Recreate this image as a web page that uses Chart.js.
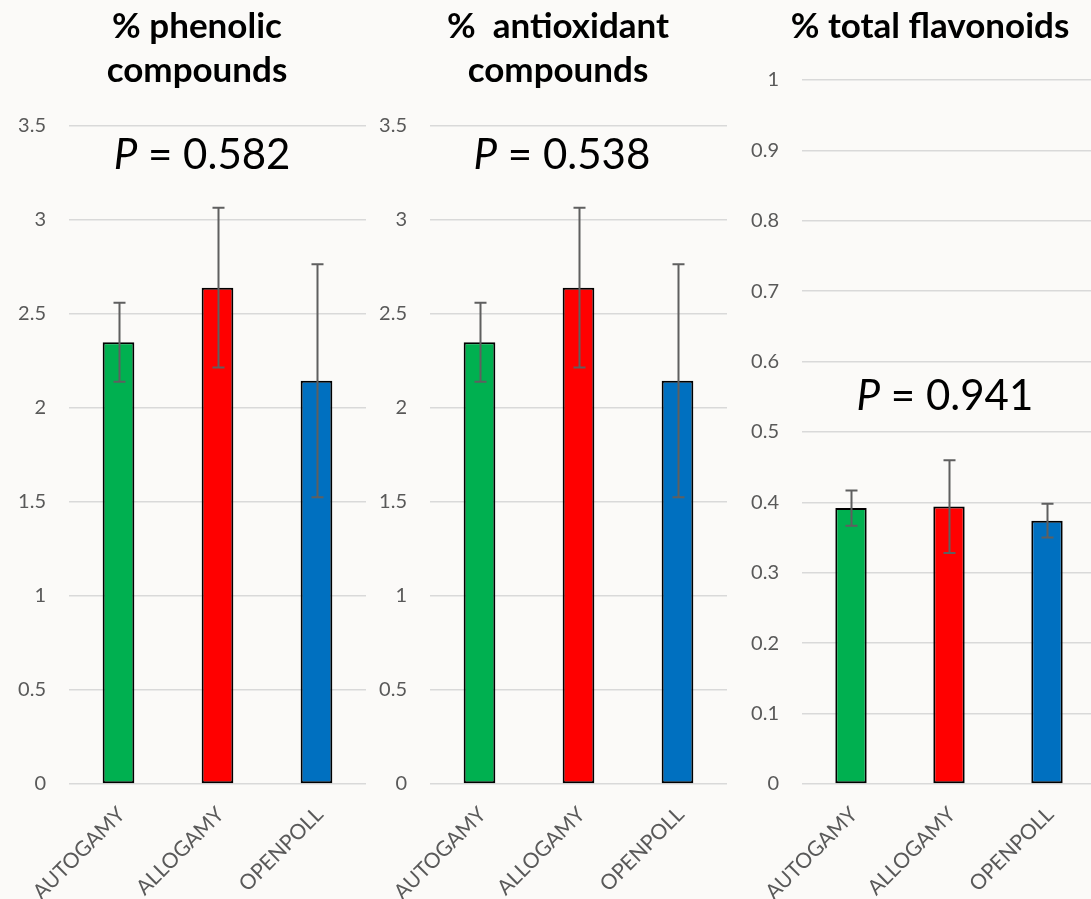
<!DOCTYPE html>
<html>
<head>
<meta charset="utf-8">
<script src="https://cdn.jsdelivr.net/npm/chart.js@4.4.1/dist/chart.umd.min.js"></script>
<style>
  html, body { margin: 0; padding: 0; background: #fbfaf8; overflow: hidden; }
  #wrap { position: relative; width: 1091px; height: 899px; overflow: hidden; background: #fbfaf8; }
  .panel { position: absolute; top: 0; height: 899px; }
</style>
</head>
<body>
<div id="wrap">
  <div class="panel" style="left:0px;width:366px"><canvas id="c1"></canvas></div>
  <div class="panel" style="left:360px;width:367px"><canvas id="c2"></canvas></div>
  <div class="panel" style="left:740px;width:356px"><canvas id="c3"></canvas></div>
</div>
<script>
// Pollination treatments on the x axis
const categories = ['AUTOGAMY', 'ALLOGAMY', 'OPENPOLL'];
const barColors = ['#00b050', '#ff0000', '#0070c0'];

// % phenolic compounds: means and error half-widths
const phenolicMean = [2.35, 2.64, 2.145];
const phenolicErr = [0.21, 0.425, 0.62];

// % antioxidant compounds: means and error half-widths
const antioxMean = [2.35, 2.64, 2.145];
const antioxErr = [0.21, 0.425, 0.62];

// % total flavonoids: means and error half-widths
const flavMean = [0.392, 0.394, 0.374];
const flavErr = [0.025, 0.066, 0.024];

// Panel headings and P values
const titlePhenolic = ['% phenolic', 'compounds'];
const titleAntiox = ['%  antioxidant', 'compounds'];
const titleFlav = ['% total flavonoids'];
const pPhenolic = '0.582';
const pAntiox = '0.538';
const pFlav = '0.941';

// Y axis ranges
const yMaxPercent = 3.5, yStepPercent = 0.5;
const yMaxFlav = 1, yStepFlav = 0.1;

const FONT = 'Lato, "Open Sans", sans-serif';
const GREY = '#595959';

// Bold heading above each panel, centred on a given x
const headingPlugin = {
  id: 'heading',
  afterDraw(chart, args, opts) {
    const { ctx } = chart;
    ctx.save();
    ctx.fillStyle = '#000';
    ctx.font = 'bold ' + opts.size + 'px ' + FONT;
    ctx.textAlign = 'center';
    ctx.textBaseline = 'middle';
    (opts.lines || []).forEach((line, i) => {
      ctx.fillText(line, opts.centerX, opts.firstY + i * opts.lineGap);
    });
    ctx.restore();
  }
};

// Draws symmetric error bars on top of each bar
const errorBarPlugin = {
  id: 'errorBars',
  afterDatasetsDraw(chart, args, opts) {
    const { ctx, scales } = chart;
    const meta = chart.getDatasetMeta(0);
    const means = chart.data.datasets[0].data;
    const errs = opts.errors || [];
    ctx.save();
    ctx.strokeStyle = opts.color;
    ctx.lineWidth = opts.width;
    meta.data.forEach((bar, i) => {
      const e = errs[i];
      if (e == null) return;
      const x = Math.round(bar.x) + 0.5;
      const yHi = scales.y.getPixelForValue(means[i] + e);
      const yLo = scales.y.getPixelForValue(means[i] - e);
      const half = opts.cap / 2;
      ctx.beginPath();
      ctx.moveTo(x, yHi); ctx.lineTo(x, yLo);
      ctx.moveTo(x - half, yHi); ctx.lineTo(x + half, yHi);
      ctx.moveTo(x - half, yLo); ctx.lineTo(x + half, yLo);
      ctx.stroke();
    });
    ctx.restore();
  }
};

// Writes the "P = ..." statement inside the plot area
const pValuePlugin = {
  id: 'pValue',
  afterDraw(chart, args, opts) {
    if (!opts.text) return;
    const { ctx, chartArea, scales } = chart;
    const cx = chartArea.left + (chartArea.right - chartArea.left) * opts.xFrac;
    const cy = scales.y.getPixelForValue(opts.yValue);
    ctx.save();
    ctx.fillStyle = '#000';
    ctx.textBaseline = 'middle';
    const italic = 'italic ' + opts.size + 'px ' + FONT;
    const normal = opts.size + 'px ' + FONT;
    ctx.font = italic;
    const wP = ctx.measureText('P').width;
    ctx.font = normal;
    const rest = ' = ' + opts.text;
    const wR = ctx.measureText(rest).width;
    const x = cx - (wP + wR) / 2;
    ctx.textAlign = 'left';
    ctx.font = italic;
    ctx.fillText('P', x, cy);
    ctx.font = normal;
    ctx.fillText(rest, x + wP, cy);
    ctx.restore();
  }
};

function makePanel(canvasId, heading, headingX, plotTop, yAxisWidth, means, errs, yMax, yStep, pText, pY, pXFrac) {
  const ctx = document.getElementById(canvasId);
  return new Chart(ctx, {
    type: 'bar',
    data: {
      labels: categories,
      datasets: [{
        data: means,
        backgroundColor: barColors,
        borderColor: '#000',
        borderWidth: 2,
        borderSkipped: false,
        categoryPercentage: 1,
        barPercentage: 0.32
      }]
    },
    options: {
      responsive: true,
      maintainAspectRatio: false,
      animation: false,
      layout: { padding: { left: 0, right: 0, top: plotTop, bottom: 0 } },
      plugins: {
        legend: { display: false },
        tooltip: { enabled: false },
        title: { display: false },
        heading: { lines: heading, centerX: headingX, firstY: 27, lineGap: 44, size: 35 },
        errorBars: { errors: errs, color: '#5f5f5f', width: 2, cap: 12 },
        pValue: { text: pText, yValue: pY, xFrac: pXFrac, size: 42 }
      },
      scales: {
        x: {
          grid: { display: false },
          border: { display: false },
          ticks: {
            color: GREY,
            font: { family: FONT, size: 21 },
            minRotation: 45,
            maxRotation: 45,
            padding: 10,
            labelOffset: 3
          },
          afterFit(scale) { scale.height = 115; }
        },
        y: {
          min: 0,
          max: yMax,
          border: { display: false },
          grid: { color: '#d9d9d9', lineWidth: 1.5, drawTicks: false },
          ticks: {
            stepSize: yStep,
            color: GREY,
            font: { family: FONT, size: 20 },
            padding: 23,
            callback: (v) => String(Math.round(v * 10) / 10)
          },
          afterFit(scale) { scale.width = yAxisWidth; }
        }
      }
    },
    plugins: [headingPlugin, errorBarPlugin, pValuePlugin]
  });
}

makePanel('c1', titlePhenolic, 197, 126, 69, phenolicMean, phenolicErr, yMaxPercent, yStepPercent, pPhenolic, 3.345, 0.448);
makePanel('c2', titleAntiox, 198, 126, 70, antioxMean, antioxErr, yMaxPercent, yStepPercent, pAntiox, 3.345, 0.444);
makePanel('c3', titleFlav, 190, 80, 62, flavMean, flavErr, yMaxFlav, yStepFlav, pFlav, 0.55, 0.486);
</script>
</body>
</html>
